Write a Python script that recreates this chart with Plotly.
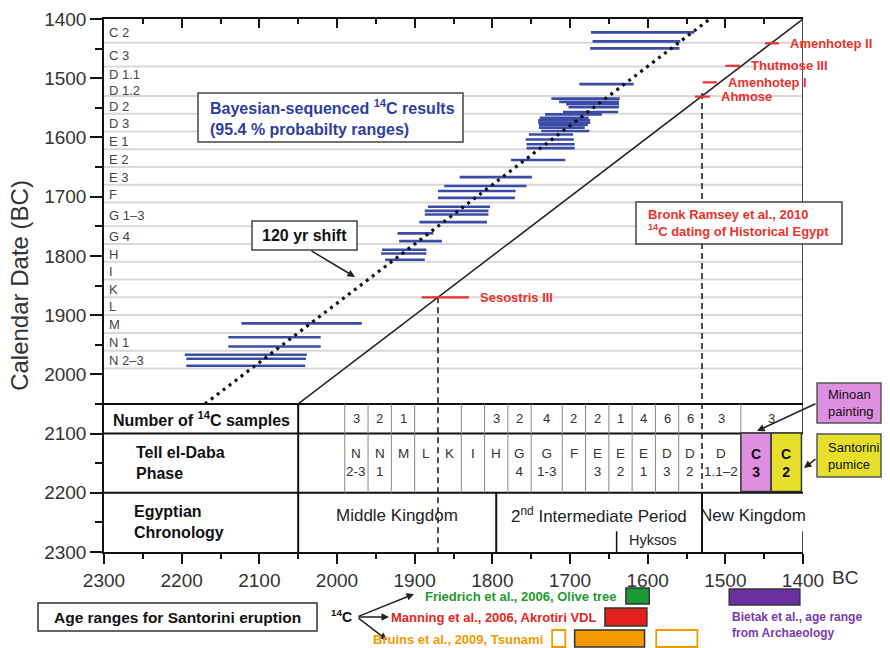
import plotly.graph_objects as go

FONT = "Liberation Sans, Arial, Helvetica, sans-serif"

# ---------------- data (years BC) ----------------
# Bayesian-sequenced 14C results (95.4 % ranges): calendar position and range ends
c14_y = [1422.5, 1437.7, 1449.6, 1510, 1534.5, 1540, 1544, 1549, 1557, 1561,
         1567, 1571, 1575, 1579, 1583.5, 1589, 1595, 1603.5, 1611.5, 1618,
         1638, 1667, 1682, 1690.5, 1702, 1717, 1724, 1730, 1743, 1762,
         1775, 1789.6, 1796, 1806.5, 1914, 1937.5, 1953, 1967, 1973.6, 1985.5]
c14_old = [1673, 1671, 1674, 1688, 1724, 1714, 1705, 1702, 1709, 1732,
           1739, 1741, 1741, 1740, 1740, 1737, 1753, 1757, 1756, 1756,
           1776, 1842, 1862, 1870, 1870, 1883, 1887, 1887, 1894, 1922,
           1920, 1942, 1943, 1938, 2123, 2140, 2140, 2196, 2194, 2194]
c14_young = [1540, 1558, 1559, 1618, 1636, 1637, 1637, 1637, 1638, 1659,
             1676, 1674, 1674, 1677, 1681, 1675, 1696, 1695, 1694, 1694,
             1706, 1749, 1756, 1770, 1771, 1803, 1805, 1805, 1807, 1876,
             1865, 1885, 1885, 1887, 1968, 2021, 2021, 2039, 2040, 2041]

SHIFT = 120          # years, dotted line offset
LINE_START = 2050    # both diagonals start at the table top

phase_names = ["C 2", "C 3", "D 1.1", "D 1.2", "D 2", "D 3", "E 1", "E 2", "E 3", "F",
               "G 1–3", "G 4", "H", "I", "K", "L", "M", "N 1", "N 2–3"]
phase_label_y = [1422, 1461, 1493, 1520, 1547, 1576, 1607, 1637, 1667, 1697,
                 1732, 1767, 1797, 1827, 1857, 1886, 1916, 1946, 1977]
phase_bounds = [1440, 1480, 1530, 1560, 1590, 1620, 1650, 1680, 1710, 1750,
                1780, 1810, 1840, 1870, 1900, 1930, 1960, 1990]

# Bronk Ramsey et al. 2010 historical anchors
king_names = ["Sesostris III", "Ahmose", "Amenhotep I", "Thutmose III", "Amenhotep II"]
king_y = [1870, 1531, 1507, 1479, 1441]
king_old = [1891, 1539, 1529, 1500, 1449]
king_young = [1830, 1520, 1511, 1481, 1431]

# Table (Tell el-Daba phases)
cell_edges = [1990, 1960, 1930, 1900, 1870, 1840, 1810, 1780, 1750, 1710,
              1680, 1650, 1620, 1590, 1560, 1530, 1480]
daba_labels = ["N<br>2-3", "N<br>1", "M", "L", "K", "I", "H", "G<br>4", "G<br>1-3", "F",
               "E<br>3", "E<br>2", "E<br>1", "D<br>3", "D<br>2", "D<br>1.1–2"]
sample_counts = ["3", "2", "1", "", "", "", "3", "2", "4", "2", "2", "1", "4", "6", "6", "3"]
c_edges = [1480, 1441, 1402]
c_labels = ["C<br>3", "C<br>2"]
c_colors = ["#df8fdf", "#e6e02c"]
c_samples = "3"

period_names = ["Middle Kingdom", "2<sup>nd</sup> Intermediate Period", "New Kingdom"]
period_edges = [2050, 1795, 1530, 1400]
hyksos_start = 1640

# Santorini eruption age ranges
friedrich = [1628, 1598]
manning = [1655, 1601]
bruins_core = [1694, 1604]
bruins_outer = [[1723, 1706], [1589, 1536]]
bietak = [1495, 1404]

# ---------------- geometry helpers (pixel -> paper) ----------------
PL, PR, PT, PB = 104, 803, 19, 552
W, H = 890, 648


def xp(px):
    return (px - PL) / (PR - PL)


def yp(py):
    return (PB - py) / (PB - PT)


RED = "#e8322b"
BLUE_T = "#2e3f9e"
INK = "#222222"

fig = go.Figure()

# blue 14C bars
bx, by = [], []
for y, a, b in zip(c14_y, c14_old, c14_young):
    bx += [a, b, None]
    by += [y, y, None]
fig.add_trace(go.Scatter(x=bx, y=by, mode="lines", line=dict(color="#3a4ca6", width=2.6),
                         hoverinfo="skip", showlegend=False))

# 1:1 line and shifted dotted line
fig.add_trace(go.Scatter(x=[LINE_START, 1400], y=[LINE_START, 1400], mode="lines",
                         line=dict(color=INK, width=1.5), hoverinfo="skip", showlegend=False))
fig.add_trace(go.Scatter(x=[LINE_START + SHIFT, 1400 + SHIFT], y=[LINE_START, 1400], mode="lines",
                         line=dict(color="#111", width=3.2, dash="3px,4.5px"),
                         hoverinfo="skip", showlegend=False))

# dashed verticals
fig.add_trace(go.Scatter(x=[king_y[0], king_y[0]], y=[king_y[0], 2300], mode="lines",
                         line=dict(color=INK, width=1.6, dash="6px,4px"), hoverinfo="skip", showlegend=False))
fig.add_trace(go.Scatter(x=[period_edges[2], period_edges[2]], y=[king_y[1] - 6, 2200], mode="lines",
                         line=dict(color=INK, width=1.6, dash="6px,4px"), hoverinfo="skip", showlegend=False))

# red anchors
kx, ky = [], []
for y, a, b in zip(king_y, king_old, king_young):
    kx += [a, b, None]
    ky += [y, y, None]
fig.add_trace(go.Scatter(x=kx, y=ky, mode="lines", line=dict(color=RED, width=2.2),
                         hoverinfo="skip", showlegend=False))

# invisible trace for top axis
fig.add_trace(go.Scatter(x=[1400], y=[1400], xaxis="x2", mode="markers", marker=dict(opacity=0),
                         hoverinfo="skip", showlegend=False))

shapes = []
annots = []

# phase gridlines
for b in phase_bounds:
    shapes.append(dict(type="line", xref="x", yref="y", x0=2300, x1=1400, y0=b, y1=b,
                       line=dict(color="#d9d9d9", width=2), layer="below"))

# phase labels
for name, y in zip(phase_names, phase_label_y):
    annots.append(dict(x=2300, y=y, xref="x", yref="y", text=name, showarrow=False,
                       xanchor="left", yanchor="middle", xshift=3,
                       font=dict(size=13, color="#444")))

# king labels
for name, y, b in zip(king_names, king_y, king_young):
    annots.append(dict(x=b, y=y, xref="x", yref="y", text="<b>%s</b>" % name, showarrow=False,
                       xanchor="left", yanchor="middle", xshift=9,
                       font=dict(size=13, color=RED)))

# ---- table ----
BLK = dict(color="#111", width=2)
for yy in [2050, 2100, 2200]:
    shapes.append(dict(type="line", xref="x", yref="y", x0=2300, x1=1400, y0=yy, y1=yy, line=BLK))
shapes.append(dict(type="line", xref="x", yref="y", x0=2050, x1=2050, y0=2050, y1=2300, line=BLK))
# right border
shapes.append(dict(type="line", xref="x", yref="y", x0=1400, x1=1400, y0=1400, y1=2100,
                   line=dict(color="#111", width=1.5)))
shapes.append(dict(type="line", xref="x", yref="y", x0=1400, x1=1400, y0=2265, y1=2300,
                   line=dict(color="#111", width=1.5)))
# cell dividers
for e in cell_edges:
    if e in (king_y[0], period_edges[2]):
        continue
    shapes.append(dict(type="line", xref="x", yref="y", x0=e, x1=e, y0=2050,
                       y1=2100 if e == c_edges[0] else 2200,
                       line=dict(color="#888", width=1)))
# Egyptian chronology dividers
for e in period_edges[1:3]:
    shapes.append(dict(type="line", xref="x", yref="y", x0=e, x1=e, y0=2200, y1=2300, line=BLK))
shapes.append(dict(type="line", xref="x", yref="y", x0=hyksos_start, x1=hyksos_start, y0=2265, y1=2300,
                   line=dict(color="#111", width=1.5)))
# C3 / C2 boxes
for i in range(2):
    shapes.append(dict(type="rect", xref="x", yref="y", x0=c_edges[i], x1=c_edges[i + 1], y0=2099, y1=2198,
                       fillcolor=c_colors[i], line=dict(color="#333", width=1.5)))
    annots.append(dict(x=(c_edges[i] + c_edges[i + 1]) / 2, y=2150, xref="x", yref="y",
                       text="<b>%s</b>" % c_labels[i], showarrow=False,
                       font=dict(size=14, color="#111")))

# cell texts
for i, (lab, cnt) in enumerate(zip(daba_labels, sample_counts)):
    cx = (cell_edges[i] + cell_edges[i + 1]) / 2
    annots.append(dict(x=cx, y=2117, xref="x", yref="y", text=lab, showarrow=False,
                       yanchor="top", font=dict(size=13.5, color="#333")))
    if cnt:
        annots.append(dict(x=cx, y=2075, xref="x", yref="y", text=cnt, showarrow=False,
                           font=dict(size=13, color="#333")))
annots.append(dict(x=(c_edges[0] + 1400) / 2, y=2075, xref="x", yref="y", text=c_samples,
                   showarrow=False, font=dict(size=13, color="#333")))

# row headers
annots.append(dict(x=2175, y=2075, xref="x", yref="y", text="<b>Number of <sup>14</sup>C samples</b>",
                   showarrow=False, font=dict(size=16, color="#111")))
annots.append(dict(x=2262, y=2150, xref="x", yref="y", text="<b>Tell el-Daba<br>Phase</b>",
                   showarrow=False, xanchor="left", align="left", font=dict(size=16, color="#111")))
annots.append(dict(x=2264, y=2249, xref="x", yref="y", text="<b>Egyptian<br>Chronology</b>",
                   showarrow=False, xanchor="left", align="left", font=dict(size=16, color="#111")))

# periods
for i, name in enumerate(period_names):
    cx = (period_edges[i] + period_edges[i + 1]) / 2
    annots.append(dict(x=cx, y=2238, xref="x", yref="y", text=name, showarrow=False,
                       font=dict(size=17, color="#222")))
annots.append(dict(x=hyksos_start, y=2279, xref="x", yref="y", text="Hyksos", showarrow=False,
                   xanchor="left", xshift=10, font=dict(size=14.5, color="#222")))

# ---- boxed labels (paper coords) ----
def box(x0, y0, x1, y1, fill="white", lc="#444", lw=1.5):
    shapes.append(dict(type="rect", xref="paper", yref="paper", x0=xp(x0), x1=xp(x1),
                       y0=yp(y1), y1=yp(y0), fillcolor=fill, line=dict(color=lc, width=lw)))


def text(px, py, t, size, color, anchor="left", align="left"):
    annots.append(dict(x=xp(px), y=yp(py), xref="paper", yref="paper", text=t, showarrow=False,
                       xanchor=anchor, yanchor="middle", align=align,
                       font=dict(size=size, color=color)))


def arrow(tx, ty, hx, hy, color="#222", width=1.5):
    annots.append(dict(x=xp(hx), y=yp(hy), xref="paper", yref="paper", text="", showarrow=True,
                       ax=tx - hx, ay=ty - hy, axref="pixel", ayref="pixel",
                       arrowhead=2, arrowsize=1, arrowwidth=width, arrowcolor=color, standoff=0))


box(198, 93, 463, 142)
text(208, 117.5, "<b>Bayesian-sequenced <sup>14</sup>C results<br>(95.4 % probabilty ranges)</b>", 16, BLUE_T)

box(252, 221, 357, 250)
text(304.5, 235.5, "<b>120 yr shift</b>", 16, "#111", anchor="center", align="center")
arrow(310, 250, 355, 277)

box(636, 202, 842, 244)
text(646, 223, "<b>Bronk Ramsey et al., 2010<br><sup>14</sup>C dating of Historical Egypt</b>", 13, RED)

box(817, 383, 881, 423, fill="#df8fdf", lc="#555")
text(826, 403, "Minoan<br>painting", 13, "#111")
arrow(817, 403, 757, 431)

box(817, 434, 881, 477, fill="#e6e02c", lc="#555")
text(826, 455.5, "Santorini<br>pumice", 13, "#111")
arrow(817, 458, 804, 468)

# x-axis "BC"
text(830, 577, "BC", 19, "#333")

# ---- Santorini eruption legend ----
box(38, 603, 317, 631, lc="#333")
text(177.5, 617, "<b>Age ranges for Santorini eruption</b>", 15.5, "#111", anchor="center", align="center")
text(341, 616, "<b><sup>14</sup>C</b>", 14, "#111", anchor="center")
arrow(357, 617, 414, 594)
arrow(357, 617, 389, 617)
arrow(357, 617, 387, 640)

GREEN, ORANGE, PURPLE = "#1e9a30", "#f39a00", "#6a2fa0"
text(618, 596, "<b>Friedrich et al., 2006, Olive tree</b>", 13, GREEN, anchor="right")
text(598, 617, "<b>Manning et al., 2006, Akrotiri VDL</b>", 13, "#e8251e", anchor="right")
text(545, 639, "<b>Bruins et al., 2009, Tsunami</b>", 13, ORANGE, anchor="right")
text(730, 625, "<b>Bietak et al., age range<br>from Archaeology</b>", 12, "#7a3aae")


def legbox(rng, py0, py1, fill, lc, lw=1.5):
    shapes.append(dict(type="rect", xref="x", yref="paper", x0=rng[0], x1=rng[1],
                       y0=yp(py1), y1=yp(py0), fillcolor=fill, line=dict(color=lc, width=lw)))


legbox(friedrich, 588, 604, "#1a9a35", "#333")
legbox(manning, 608, 626, "#e0201a", "#333")
legbox(bruins_core, 630, 647, ORANGE, "#333")
for r in bruins_outer:
    legbox(r, 630, 647, "white", ORANGE, 1.8)
legbox(bietak, 589, 605, PURPLE, "#333")

axis_common = dict(showgrid=False, zeroline=False, showline=True, linecolor="#111", linewidth=1.5,
                   tickcolor="#111", tickwidth=1.5, automargin=False)

fig.update_layout(
    width=W, height=H, template="none",
    margin=dict(l=PL, r=W - PR, t=PT, b=H - PB, pad=0),
    paper_bgcolor="white", plot_bgcolor="white",
    font=dict(family=FONT, color="#222"),
    showlegend=False,
    xaxis=dict(range=[2300, 1400], tick0=1400, dtick=100, ticks="outside", ticklen=10,
               minor=dict(dtick=50, ticks="outside", ticklen=5, tickcolor="#111", tickwidth=1.5),
               tickfont=dict(size=19, color="#333"), ticklabelstandoff=0, **axis_common),
    xaxis2=dict(range=[2300, 1400], overlaying="x", side="top", anchor="y", tick0=1400, dtick=100,
                ticks="inside", ticklen=9, showticklabels=False,
                minor=dict(dtick=50, ticks="inside", ticklen=5, tickcolor="#111", tickwidth=1.5),
                **axis_common),
    yaxis=dict(range=[2300, 1400], tick0=1400, dtick=100, ticks="outside", ticklen=12,
               minor=dict(dtick=50, ticks="outside", ticklen=7, tickcolor="#111", tickwidth=1.5),
               tickfont=dict(size=19, color="#333"),
               title=dict(text="Calendar Date (BC)", font=dict(size=24, color="#333"), standoff=9),
               **axis_common),
    shapes=shapes,
    annotations=annots,
)

fig.write_html("out.html", config={"displayModeBar": False})
